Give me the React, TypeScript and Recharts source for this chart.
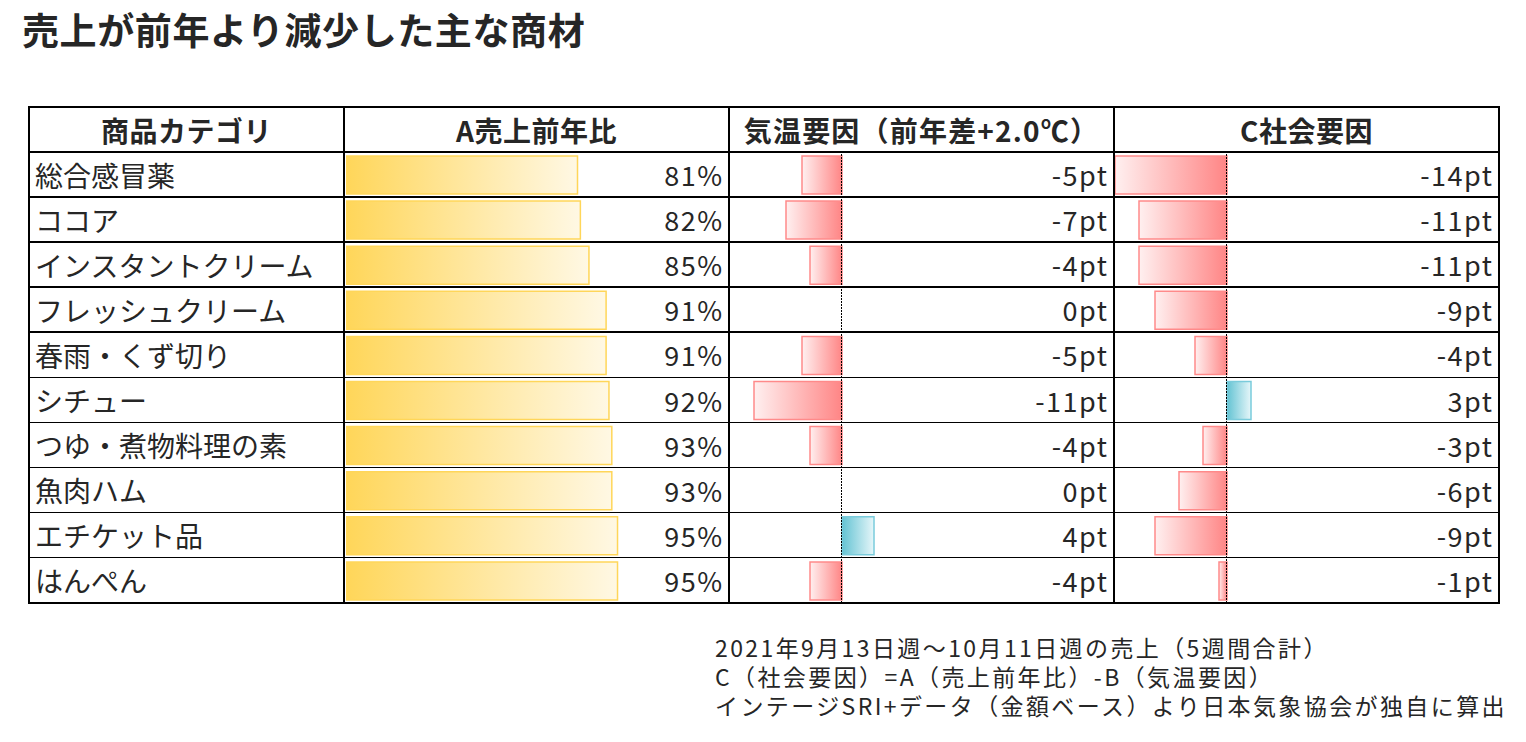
import React from 'react';
import { BarChart, Bar, XAxis, YAxis, Cell, ReferenceLine } from 'recharts';

const categories = [
  '総合感冒薬',
  'ココア',
  'インスタントクリーム',
  'フレッシュクリーム',
  '春雨・くず切り',
  'シチュー',
  'つゆ・煮物料理の素',
  '魚肉ハム',
  'エチケット品',
  'はんぺん',
];
const salesRatio = [81, 82, 85, 91, 91, 92, 93, 93, 95, 95];
const tempFactor = [-5, -7, -4, 0, -5, -11, -4, 0, 4, -4];
const socialFactor = [-14, -11, -11, -9, -4, 3, -3, -6, -9, -1];

const headers = ['商品カテゴリ', 'A売上前年比', '気温要因（前年差+2.0℃）', 'C社会要因'];
const title = '売上が前年より減少した主な商材';
const notes = [
  '2021年9月13日週～10月11日週の売上（5週間合計）',
  'C（社会要因）=A（売上前年比）-B（気温要因）',
  'インテージSRI+データ（金額ベース）より日本気象協会が独自に算出',
];

const FONT = '"Noto Sans CJK JP", "Noto Sans", sans-serif';
const TEXT = '#262626';
const colX = [29, 344, 729, 1114, 1499];
const TABLE_TOP = 107;
const HEAD_H = 45;
const ROW_H = 45.1;
const BODY_TOP = TABLE_TOP + HEAD_H;
const BODY_H = ROW_H * categories.length;

const rows = (values: number[]) => categories.map((name, i) => ({ name, value: values[i] }));

// crisp 1px dotted zero line
const zeroLine = (props: any) => {
  const x = Math.round(props.x1) - 0.5;
  return <line x1={x} x2={x} y1={props.y1} y2={props.y2} stroke="#000" strokeWidth={1} strokeDasharray="2 1" />;
};

function RatioChart() {
  return (
    <BarChart
      width={383}
      height={BODY_H}
      data={rows(salesRatio)}
      layout="vertical"
      margin={{ top: 0, right: 0, bottom: 0, left: 0 }}
    >
      <defs>
        <linearGradient id="gradRatio" x1="0" y1="0" x2="1" y2="0">
          <stop offset="0%" stopColor="#FFD659" />
          <stop offset="100%" stopColor="#FFF8E4" />
        </linearGradient>
      </defs>
      <XAxis type="number" domain={[0, 134]} hide />
      <YAxis type="category" dataKey="name" hide />
      <Bar dataKey="value" barSize={38} fill="url(#gradRatio)" stroke="#FFD659" strokeWidth={1.5} isAnimationActive={false} />
    </BarChart>
  );
}

function FactorChart({ values, id }: { values: number[]; id: string }) {
  return (
    <BarChart
      width={384}
      height={BODY_H}
      data={rows(values)}
      layout="vertical"
      margin={{ top: 0, right: 0, bottom: 0, left: 0 }}
    >
      <defs>
        <linearGradient id={`${id}Neg`} x1="0" y1="0" x2="1" y2="0">
          <stop offset="0%" stopColor="#FFF0F0" />
          <stop offset="100%" stopColor="#FF8585" />
        </linearGradient>
        <linearGradient id={`${id}Pos`} x1="0" y1="0" x2="1" y2="0">
          <stop offset="0%" stopColor="#63C3D3" />
          <stop offset="100%" stopColor="#E6F6F9" />
        </linearGradient>
      </defs>
      <XAxis type="number" domain={[-14, 34]} hide />
      <YAxis type="category" dataKey="name" hide />
      <Bar dataKey="value" barSize={38} strokeWidth={1.5} isAnimationActive={false}>
        {values.map((v, i) => (
          <Cell
            key={i}
            fill={v < 0 ? `url(#${id}Neg)` : `url(#${id}Pos)`}
            stroke={v < 0 ? '#FF8A8A' : '#7ACBDB'}
          />
        ))}
      </Bar>
      <ReferenceLine x={0} shape={zeroLine} />
    </BarChart>
  );
}

// right-aligned value text for one column, one per row
function ValueColumn({ values, suffix, cellRight }: { values: number[]; suffix: string; cellRight: number }) {
  return (
    <>
      {values.map((v, i) => (
        <div
          key={i}
          style={{
            position: 'absolute',
            right: 1526 - cellRight + 5.5,
            top: BODY_TOP + i * ROW_H,
            height: ROW_H,
            display: 'flex',
            alignItems: 'center',
            fontSize: 27,
            letterSpacing: '1.5px',
            whiteSpace: 'nowrap',
          }}
        >
          {v}
          {suffix}
        </div>
      ))}
    </>
  );
}

const line = (style: React.CSSProperties) => (
  <div style={{ position: 'absolute', background: '#000', ...style }} />
);

export default function App() {
  const left = colX[0];
  const right = colX[colX.length - 1];
  const bottom = BODY_TOP + BODY_H;

  return (
    <div
      style={{
        position: 'absolute',
        left: 0,
        top: 0,
        width: 1526,
        height: 742,
        background: '#fff',
        fontFamily: FONT,
        color: TEXT,
        overflow: 'hidden',
      }}
    >
      <div
        style={{
          position: 'absolute',
          left: 22,
          top: 5,
          fontSize: 37,
          fontWeight: 700,
          lineHeight: '48px',
          letterSpacing: '0.6px',
          whiteSpace: 'nowrap',
        }}
      >
        {title}
      </div>

      {/* header cells */}
      {headers.map((h, i) => (
        <div
          key={h}
          style={{
            position: 'absolute',
            left: colX[i],
            width: colX[i + 1] - colX[i],
            top: TABLE_TOP,
            height: HEAD_H,
            display: 'flex',
            alignItems: 'center',
            justifyContent: 'center',
            fontSize: 28,
            fontWeight: 700,
            letterSpacing: i === 2 ? '1.2px' : '0.5px',
            whiteSpace: 'nowrap',
          }}
        >
          {h}
        </div>
      ))}

      {/* category names */}
      {categories.map((c, i) => (
        <div
          key={c}
          style={{
            position: 'absolute',
            left: left + 6,
            top: BODY_TOP + i * ROW_H,
            height: ROW_H,
            display: 'flex',
            alignItems: 'center',
            fontSize: 28,
            whiteSpace: 'nowrap',
          }}
        >
          {c}
        </div>
      ))}

      <div style={{ position: 'absolute', left: 346, top: BODY_TOP }}>
        <RatioChart />
      </div>
      <div style={{ position: 'absolute', left: 730, top: BODY_TOP }}>
        <FactorChart values={tempFactor} id="temp" />
      </div>
      <div style={{ position: 'absolute', left: 1115, top: BODY_TOP }}>
        <FactorChart values={socialFactor} id="social" />
      </div>

      <ValueColumn values={salesRatio} suffix="%" cellRight={colX[2]} />
      <ValueColumn values={tempFactor} suffix="pt" cellRight={colX[3]} />
      <ValueColumn values={socialFactor} suffix="pt" cellRight={colX[4]} />

      {/* grid lines */}
      {line({ left, top: TABLE_TOP - 1, width: right - left + 1, height: 2 })}
      {line({ left, top: bottom - 1, width: right - left + 1, height: 2 })}
      {line({ left, top: BODY_TOP - 1, width: right - left + 1, height: 2 })}
      {categories.slice(1).map((_, i) => (
        <React.Fragment key={i}>
          {line({ left, top: BODY_TOP + (i + 1) * ROW_H - 1, width: right - left + 1, height: 1.5 })}
        </React.Fragment>
      ))}
      {colX.map((x, i) => (
        <React.Fragment key={`c${i}`}>
          {line({ left: x - 1, top: TABLE_TOP - 1, width: 2, height: bottom - TABLE_TOP + 2 })}
        </React.Fragment>
      ))}

      {notes.map((n, i) => (
        <div
          key={n}
          style={{
            position: 'absolute',
            left: 715,
            top: 633 + i * 29,
            fontSize: 23,
            lineHeight: '29px',
            height: 29,
            letterSpacing: '2.4px',
            whiteSpace: 'nowrap',
          }}
        >
          {n}
        </div>
      ))}
    </div>
  );
}
